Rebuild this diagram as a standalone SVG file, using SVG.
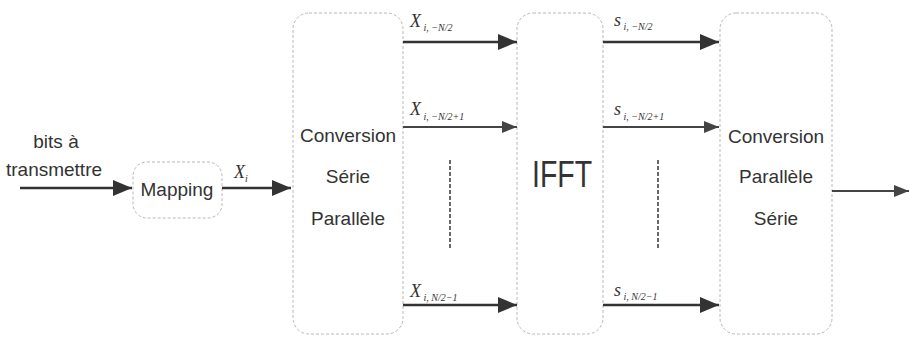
<svg xmlns="http://www.w3.org/2000/svg" width="909" height="337" viewBox="0 0 909 337">
<style>
.box{fill:#fff;stroke:#b8b8b8;stroke-width:1;stroke-dasharray:3 2}
.lbl{font-family:"Liberation Sans",Arial,sans-serif;font-size:19px;fill:#333;text-anchor:middle}
.big{font-size:37px}
.var{font-family:"Liberation Serif","Times New Roman",serif;font-style:italic;font-size:18px;fill:#333}
.sub{font-size:10px}
.ar{stroke:#333;stroke-width:2.5;fill:none;marker-end:url(#ah)}
.ar2{stroke:#444;stroke-width:1.8;fill:none;marker-end:url(#ah2)}
.dots{stroke:#444;stroke-width:1.6;stroke-dasharray:4 2;fill:none}
</style>
<defs>
<marker id="ah" markerUnits="userSpaceOnUse" markerWidth="20" markerHeight="16" refX="19" refY="8" orient="auto"><path d="M0,0 L19,8 L0,16 z" fill="#333"/></marker>
<marker id="ah2" markerUnits="userSpaceOnUse" markerWidth="16" markerHeight="12" refX="15" refY="6" orient="auto"><path d="M0,0 L15,6 L0,12 z" fill="#444"/></marker>
</defs>
<rect width="909" height="337" fill="#fff"/>
<g id="input">
<text class="lbl" x="56" y="148">bits à</text>
<text class="lbl" x="54" y="176">transmettre</text>
</g>
<g id="mapping">
<rect class="box" x="133" y="162" width="89" height="56" rx="14"/>
<text class="lbl" x="177" y="196">Mapping</text>
</g>
<g id="sp">
<rect class="box" x="293" y="13" width="110" height="321" rx="16"/>
<text class="lbl" x="348" y="142">Conversion</text>
<text class="lbl" x="348" y="183">Série</text>
<text class="lbl" x="348" y="225">Parallèle</text>
</g>
<g id="ifft">
<rect class="box" x="517" y="13" width="86" height="321" rx="16"/>
<text class="lbl big" x="562" y="187" textLength="60" lengthAdjust="spacingAndGlyphs">IFFT</text>
</g>
<g id="ps">
<rect class="box" x="720" y="13" width="112" height="321" rx="16"/>
<text class="lbl" x="776" y="143">Conversion</text>
<text class="lbl" x="776" y="183">Parallèle</text>
<text class="lbl" x="776" y="225">Série</text>
</g>
<g id="connectors">
<line class="ar" x1="20" y1="188" x2="132" y2="188"/>
<line class="ar" x1="222" y1="188" x2="291" y2="188"/>
<line class="ar" x1="403" y1="42" x2="517" y2="42"/>
<line class="ar2" x1="403" y1="127" x2="517" y2="127"/>
<line class="ar" x1="403" y1="305" x2="517" y2="305"/>
<line class="ar" x1="603" y1="42" x2="719" y2="42"/>
<line class="ar2" x1="603" y1="127" x2="719" y2="127"/>
<line class="ar" x1="603" y1="305" x2="719" y2="305"/>
<line class="ar2" x1="832" y1="191" x2="909" y2="191"/>
<line class="dots" x1="450" y1="160" x2="450" y2="248"/>
<line class="dots" x1="658" y1="160" x2="658" y2="248"/>
<text class="var" x="234" y="178">X<tspan class="sub" dy="4">i</tspan></text>
<text class="var" x="410" y="27">X<tspan class="sub" dy="4"> i, −N/2</tspan></text>
<text class="var" x="410" y="115">X<tspan class="sub" dy="5"> i, −N/2+1</tspan></text>
<text class="var" x="410" y="297">X<tspan class="sub" dy="4"> i, N/2−1</tspan></text>
<text class="var" x="614" y="26">s<tspan class="sub" dy="4"> i, −N/2</tspan></text>
<text class="var" x="614" y="115">s<tspan class="sub" dy="5"> i, −N/2+1</tspan></text>
<text class="var" x="614" y="296">s<tspan class="sub" dy="4"> i, N/2−1</tspan></text>
</g>
</svg>
